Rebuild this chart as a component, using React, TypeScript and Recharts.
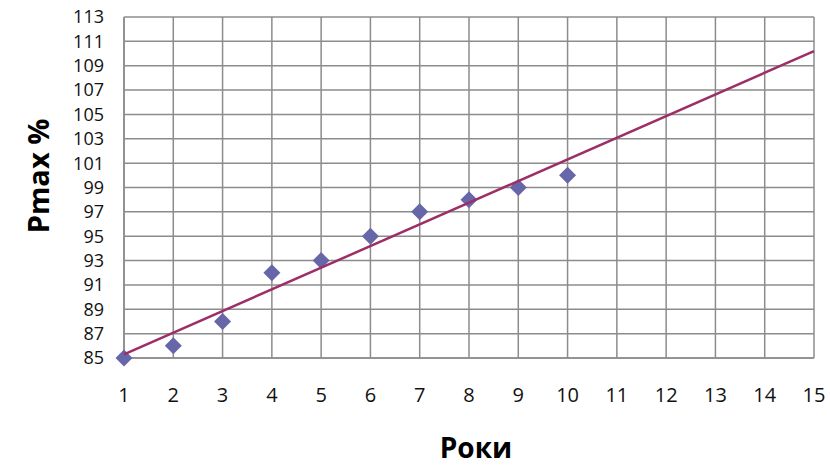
import { ComposedChart, Scatter, XAxis, YAxis, CartesianGrid } from 'recharts'

const years = [1, 2, 3, 4, 5, 6, 7, 8, 9, 10]
const pmax = [85, 86, 88, 92, 93, 95, 97, 98, 99, 100]

// trend line ends
const trendX = [1, 15]
const trendY = [85.3, 110.2]

const xTicks = [1, 2, 3, 4, 5, 6, 7, 8, 9, 10, 11, 12, 13, 14, 15]
const yTicks = [85, 87, 89, 91, 93, 95, 97, 99, 101, 103, 105, 107, 109, 111, 113]

const points = years.map((x, i) => ({ x, y: pmax[i] }))
const trend = trendX.map((x, i) => ({ x, y: trendY[i] }))

const font = '"Open Sans", sans-serif'
const grid = '#8c8c8c'

function Diamond(props: { cx?: number; cy?: number }) {
  const { cx = 0, cy = 0 } = props
  const r = 8.5
  return (
    <polygon
      points={`${cx},${cy - r} ${cx + r},${cy} ${cx},${cy + r} ${cx - r},${cy}`}
      fill="#6666a8"
    />
  )
}

export default function App() {
  return (
    <div style={{ position: 'absolute', left: 0, top: 0, width: 830, height: 468, background: '#fff' }}>
      <ComposedChart
        width={830}
        height={468}
        margin={{ top: 17, right: 16, left: 0, bottom: 0 }}
      >
        <CartesianGrid stroke={grid} strokeWidth={1.5} />
        <XAxis
          type="number"
          dataKey="x"
          domain={[1, 15]}
          ticks={xTicks}
          interval={0}
          height={110}
          tickSize={0}
          tickMargin={30}
          axisLine={{ stroke: grid, strokeWidth: 1.5 }}
          tickLine={false}
          tick={{ fill: '#111', fontSize: 20, fontFamily: font }}
        />
        <YAxis
          type="number"
          dataKey="y"
          domain={[85, 113]}
          ticks={yTicks}
          interval={0}
          width={124}
          tickSize={0}
          tickMargin={20}
          axisLine={{ stroke: grid, strokeWidth: 1.5 }}
          tickLine={false}
          tick={{ fill: '#111', fontSize: 18, fontFamily: font }}
        />
        <Scatter data={points} shape={<Diamond />} isAnimationActive={false} />
        <Scatter
          data={trend}
          line={{ stroke: '#9b2f66', strokeWidth: 2.5 }}
          shape={() => <g />}
          isAnimationActive={false}
        />
      </ComposedChart>
      <div
        style={{
          position: 'absolute',
          left: 37,
          top: 176,
          transform: 'translate(-50%, -50%) rotate(-90deg)',
          fontFamily: font,
          fontWeight: 700,
          fontSize: 29,
          lineHeight: 1,
          whiteSpace: 'nowrap',
          color: '#000',
        }}
      >
        Pmax %
      </div>
      <div
        style={{
          position: 'absolute',
          left: 476,
          top: 447,
          transform: 'translate(-50%, -50%)',
          fontFamily: font,
          fontWeight: 700,
          fontSize: 28,
          lineHeight: 1,
          whiteSpace: 'nowrap',
          color: '#000',
        }}
      >
        Роки
      </div>
    </div>
  )
}
